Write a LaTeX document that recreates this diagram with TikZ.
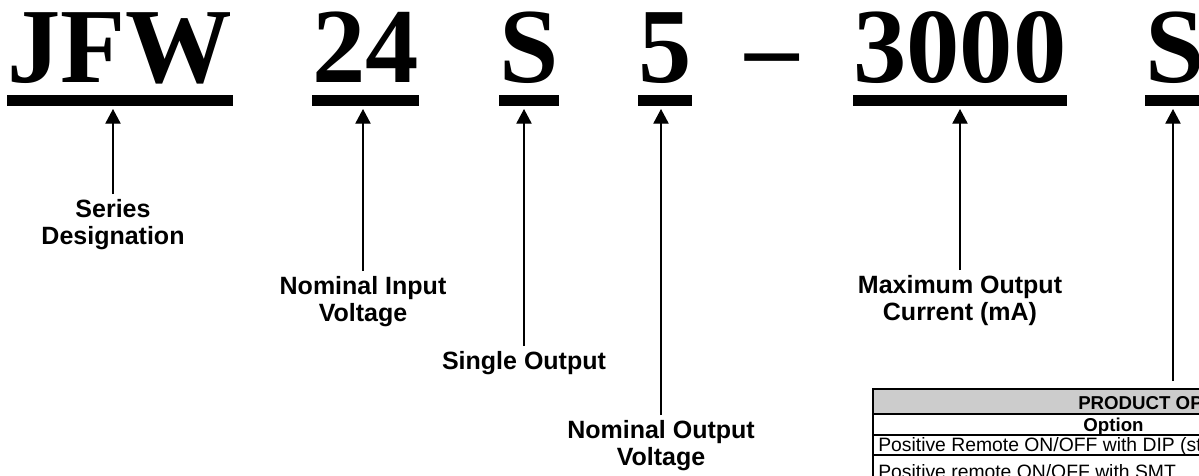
\documentclass[tikz,border=0pt]{standalone}
\usepackage{fontspec}
\setmainfont{Liberation Serif}
\setsansfont{Liberation Sans}
\usetikzlibrary{
  calc,
  arrows.meta
}

\begin{document}
\begin{tikzpicture}[
            x=0.75pt, y=-0.75pt,
            % Stili dei nodi
            code/.style={anchor=base west, inner sep=0pt, font=\bfseries\fontsize{80}{80}\selectfont},
            caption/.style={anchor=north, align=center, inner sep=4pt, font=\sffamily\bfseries\fontsize{18.75}{20.25}\selectfont},
            cell/.style={anchor=base west, inner sep=0pt, font=\sffamily\fontsize{14.5}{14.5}\selectfont},
            cellhead/.style={cell, font=\sffamily\bfseries\fontsize{14}{14}\selectfont},
            pointer/.style={line width=0.9pt, -{Triangle[length=11pt, width=11.5pt]}}
        ]
        \useasboundingbox (0,0) rectangle (1199,475);
        \clip (0,0) rectangle (1199,475);

        % Codice prodotto
        \node (jfw) [code] at (7,82) {JFW};
        \node (vin) [code] at (312,82) {24};
        \node (single) [code] at (499,82) {S};
        \node (vout) [code] at (638,82) {5};
        \node (dash) [code] at (745,82) {\textendash};
        \node (amp) [code] at (853,82) {3000};
        \node (opt) [code] at (1145,82) {S};

        % Sottolineature
        \foreach \n in {jfw,vin,single,vout,amp,opt}
          \fill ($(\n.base west)+(0,13)$) rectangle ($(\n.base east)+(0,24)$);

        % Didascalie
        \node (series) [caption] at (113,194) {Series\\Designation};
        \node (input) [caption] at (363,271) {Nominal Input\\Voltage};
        \node (out1) [caption] at (524,346) {Single Output};
        \node (output) [caption] at (661,415) {Nominal Output\\Voltage};
        \node (current) [caption] at (960,270) {Maximum Output\\Current (mA)};

        % Tabella opzioni
        \fill[gray!40] (873,389) rectangle (1260,414);
        \draw[line width=1.3pt] (873,389) rectangle (1260,520);
        \foreach \y in {414,435,455}
          \draw[line width=1.1pt] (873,\y) -- (1260,\y);
        \node (head) [cellhead] at (1078,409) {PRODUCT OPTIONS};
        \node (option) [cellhead, anchor=base] at (1113.5,431) {Option};
        \node (dip) [cell] at (878,451) {Positive Remote ON/OFF with DIP (standard)};
        \node (smt) [cell] at (878,478) {Positive remote ON/OFF with SMT};
        \coordinate (tabtop) at (1173,381);

        % Frecce
        \draw [pointer] (series.north) -- ($(series.north |- jfw.base)+(0,27)$);
        \draw [pointer] (input.north) -- ($(input.north |- vin.base)+(0,27)$);
        \draw [pointer] (out1.north) -- ($(out1.north |- single.base)+(0,27)$);
        \draw [pointer] (output.north) -- ($(output.north |- vout.base)+(0,27)$);
        \draw [pointer] (current.north) -- ($(current.north |- amp.base)+(0,27)$);
        \draw [pointer] (tabtop) -- ($(tabtop |- opt.base)+(0,27)$);

    \end{tikzpicture}
\end{document}
